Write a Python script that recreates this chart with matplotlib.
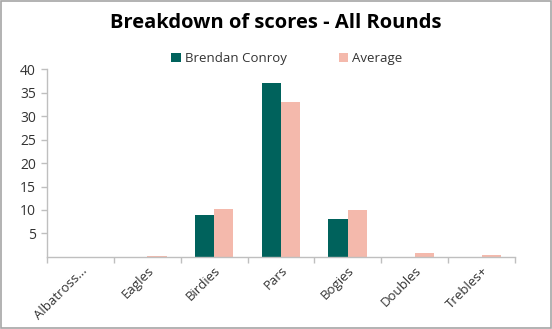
import matplotlib
matplotlib.use("Agg")
import matplotlib.pyplot as plt
import numpy as np

categories = ["Albatross...", "Eagles", "Birdies", "Pars", "Bogies", "Doubles", "Trebles+"]
brendan = [0, 0, 9, 37, 8, 0, 0]
average = [0, 0.2, 10.2, 33, 9.9, 0.8, 0.35]
yticks = [5, 10, 15, 20, 25, 30, 35, 40]

plt.rcParams['font.family'] = ['Open Sans', 'DejaVu Sans']

fig = plt.figure(figsize=(5.52, 3.29), dpi=100)
ax = fig.add_axes([0.085, 0.219, 0.848, 0.571])

x = np.arange(len(categories))
w = 0.29
c1 = "#00625C"
c2 = "#F4B9AC"
ax.bar(x - w/2, brendan, w, color=c1, label="Brendan Conroy")
ax.bar(x + w/2, average, w, color=c2, label="Average")

ax.set_xlim(-0.5, len(categories) - 0.5)
ax.set_ylim(0, 40)
ax.set_yticks(yticks)
ax.set_yticklabels([str(v) for v in yticks], fontsize=10, color="#333333")
ax.set_xticks(x)
ax.set_xticklabels(categories, rotation=45, ha="right", rotation_mode="anchor",
                   fontsize=9.5, color="#333333")
ax.set_xticks(np.arange(len(categories) + 1) - 0.5, minor=True)
ax.tick_params(axis="x", which="major", length=0, pad=5)
ax.tick_params(axis="x", which="minor", length=4, color="#bfbfbf", width=1)
ax.tick_params(axis="y", length=4, color="#bfbfbf", width=1, pad=4)

for s in ["top", "right"]:
    ax.spines[s].set_visible(False)
for s in ["left", "bottom"]:
    ax.spines[s].set_color("#bfbfbf")
    ax.spines[s].set_linewidth(1)

fig.text(0.5, 0.93, "Breakdown of scores - All Rounds", ha="center", va="center",
         fontsize=14.5, fontweight="bold", color="black")

fig.legend(loc="center", bbox_to_anchor=(0.52, 0.822), ncol=2, frameon=False,
           fontsize=9.5, handlelength=0.7, handleheight=0.7, columnspacing=4,
           handletextpad=0.3, labelcolor="#333333")

border = plt.Rectangle((0.001, 0.002), 0.997, 0.995, transform=fig.transFigure,
                       fill=False, edgecolor="#a6a6a6", linewidth=1.2)
fig.patches.append(border)

fig.savefig("out.png", dpi=100)
